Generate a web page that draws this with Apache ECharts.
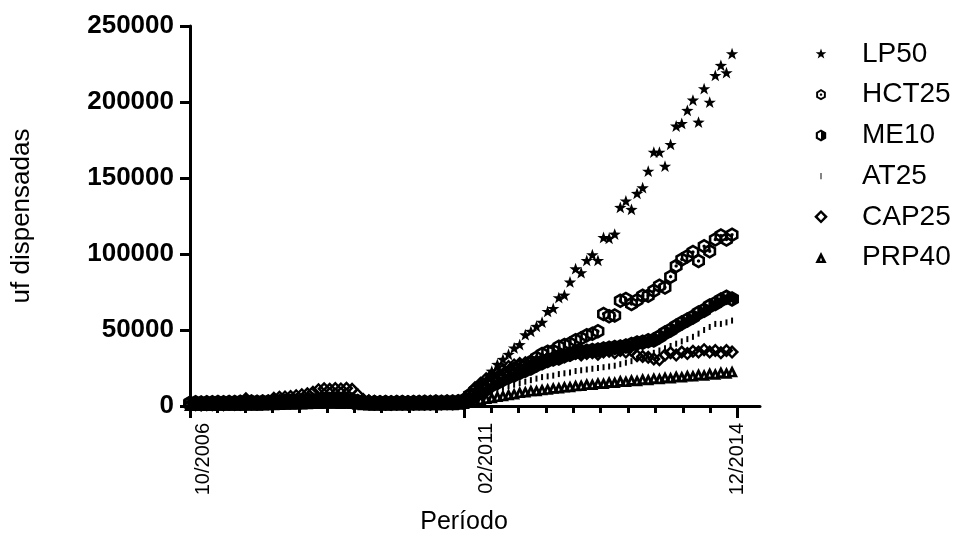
<!DOCTYPE html>
<html>
<head>
<meta charset="utf-8">
<title>uf dispensadas</title>
<script src="https://cdn.jsdelivr.net/npm/echarts@6/dist/echarts.min.js"></script>
<style>
  html, body { margin: 0; padding: 0; background: #fff; }
  #chart { width: 960px; height: 534px; }
</style>
</head>
<body>
<div id="chart"></div>
<script>
// meses 10/2006 ... 11/2014 (um ponto por mes)
const months = [];
for (let k = 0; k < 98; k++) {
  const m = (9 + k) % 12 + 1, y = 2006 + Math.floor((9 + k) / 12);
  months.push((m < 10 ? '0' : '') + m + '/' + y);
}
const tickLabels = ['10/2006', '02/2011', '12/2014'];
const yTicks = [0, 50000, 100000, 150000, 200000, 250000];
const seriesNames = ['LP50', 'HCT25', 'ME10', 'AT25', 'CAP25', 'PRP40'];

const lp50 = [
  1800,1900,2000,1900,2100,2000,2200,2100,2300,2200,
  2400,2300,2500,2600,2700,2800,3000,3100,3200,3300,
  3400,3500,3600,3800,3900,4000,4100,4000,4200,3900,
  3200,2800,2600,2500,2400,2500,2600,2500,2700,2600,
  2800,2700,2900,3000,2800,3000,3100,2900,3200,
  4500,7500,
  10700,13800,17100,22600,27000,30300,33600,37800,40000,46500,
  48700,52000,54700,61800,63800,70900,72600,81200,89900,87300,
  95400,99100,95400,110500,109900,112700,130300,134500,129000,139500,
  143200,154100,166600,166600,157400,171700,183800,185500,194100,200900,
  186400,208400,199500,217100,223700,218900,231400
];
const hct25 = [
  2200,2400,2300,2500,2400,2600,2500,2700,2600,2800,
  2700,2900,2800,3000,2900,3100,3000,3200,3100,3300,
  3200,3400,3300,3500,3400,3600,3500,3400,3600,3300,
  3000,2800,2700,2600,2500,2600,2500,2700,2600,2500,
  2700,2600,2800,2700,2900,2800,3000,2900,3100,
  4000,7000,10000,12500,14500,16500,18400,20400,22400,24300,
  26300,27000,29100,31700,34200,35700,36200,38900,40100,41100,
  43200,44500,46500,47600,49100,60600,59100,59500,69300,70400,
  67100,69500,72600,72600,75800,79100,78000,85100,92100,96400,
  98600,101300,95400,105100,101800,109500,112100,109500,112700
];
const me10 = [
  1500,1600,1500,1700,1600,1800,1700,1900,1800,2000,
  1900,2100,2000,2200,2300,2500,2600,2800,3000,3200,
  3400,3600,3800,4000,4200,4300,4400,4300,4200,4000,
  3000,2500,2200,2000,1900,2000,1800,1900,2000,1900,
  2000,2100,1900,2000,2200,2100,2300,2200,2400,
  2500,4500,7200,9000,11000,13800,15500,17500,19000,20400,
  22000,23500,25000,27000,28500,30000,31000,31600,33000,34000,
  35500,35500,36000,36500,36800,37500,38000,38500,38800,39500,
  40500,41400,42000,43000,43400,45500,48000,50000,52500,54600,
  56600,58500,61200,63000,65800,67500,69700,71500,70400
];
const at25 = [
  900,1000,1100,1000,1200,1100,1300,1200,1400,1300,
  1500,1400,1600,1700,1800,1900,2000,2100,2200,2300,
  2400,2500,2600,2700,2800,2900,3000,2900,2800,2700,
  2200,1900,1700,1600,1500,1600,1500,1400,1500,1600,
  1500,1600,1700,1600,1800,1700,1900,1800,2000,
  2000,3500,5000,6500,8000,9500,11000,12000,13000,14000,
  15000,16000,17000,18000,19000,19500,20000,21000,21500,22000,
  23000,23500,24000,24500,25000,25500,26000,26500,27500,28500,
  29500,31000,32000,33500,35000,36500,38000,39500,41000,42500,
  44000,45500,47600,50000,52000,54000,54000,55000,56200
];
const cap25 = [
  1000,1200,1000,1300,1100,1200,1000,1300,1200,1100,
  4700,3000,2800,3200,3000,5100,5800,6000,6300,6800,
  7400,8000,9000,10700,11300,11000,11500,11200,11600,11000,
  7400,4300,3500,3000,2800,2600,2500,2800,2600,2700,
  2500,2800,2600,3000,2700,2500,2800,2600,3000,
  4000,8000,12000,15000,18000,20000,22000,24000,26000,27000,
  28000,28500,29000,29500,30500,31500,32000,33000,32500,33500,
  34500,33500,34500,35000,34000,35500,36000,35000,36500,35500,
  36500,33000,32500,32000,31000,30500,33500,35000,33500,35500,
  34500,36000,35500,37000,35500,36500,35000,36500,35500
];
const prp40 = [
  600,700,650,750,700,800,750,850,800,900,
  850,950,900,1000,1100,1200,1300,1400,1500,1600,
  1700,1800,1900,2000,2100,2200,2100,2000,2100,1900,
  1500,1200,1000,900,950,900,1000,950,1050,1000,
  1100,1050,1150,1100,1200,1150,1250,1200,1400,
  2000,3000,4000,4500,5300,5800,6500,7000,7800,8300,
  9200,9600,10300,10400,11000,11300,12000,12200,12900,13000,
  13700,13800,14600,14500,15300,15200,16000,15800,16700,16400,
  17300,17000,17900,17600,18500,18200,19100,18800,19700,19400,
  20300,20000,21000,20600,21700,21200,22400,21900,22800
];

// simbolos (caixa 0..100, furos desenhados no sentido contrario)
const STAR = [[[50,0],[61.76,33.82],[97.55,34.55],[69.02,56.18],[79.39,90.45],[50,70],[20.61,90.45],[30.98,56.18],[2.45,34.55],[38.24,33.82]]];
const HEX = [[50,0],[93.3,25],[93.3,75],[50,100],[6.7,75],[6.7,25]];
const HCT = [HEX, [[50,20],[24,35],[24,65],[50,80],[76,65],[76,35]], [[50,38],[60.4,44],[60.4,56],[50,62],[39.6,56],[39.6,44]]];
const HALF = [HEX, [[50,20],[24,35],[24,65],[50,80]]];
const DASH = [[[47,30],[53,30],[53,70],[47,70]]];
const DIAM = [[[50,0],[100,50],[50,100],[0,50]], [[50,24],[26,50],[50,76],[74,50]]];
const TRI = [[[50,0],[100,100],[0,100]], [[50,52],[40,78],[60,78]]];

function toPath(polys, s) {
  const o = 50 - 50 * s;
  let d = 'M0 0 M100 100';
  polys.forEach(p => {
    d += ' M' + p.map(q => (o + q[0] * s).toFixed(1) + ' ' + (o + q[1] * s).toFixed(1)).join(' L') + ' Z';
  });
  return 'path://' + d;
}

const FONT = '"Liberation Sans", Arial, sans-serif';
const values = [lp50, hct25, me10, at25, cap25, prp40];
const symbols = [toPath(STAR, 1), toPath(HCT, 1), toPath(HALF, 1), 'rect', toPath(DIAM, 1), toPath(TRI, 1)];
const sizes = [13, 15, 16, [2, 6], 14, 12];
const legendIcons = [toPath(STAR, 0.7), toPath(HCT, 0.7), toPath(HALF, 0.75), toPath(DASH, 1), toPath(DIAM, 0.85), toPath(TRI, 0.7)];

const labelAt = [2.5, 53, 98];
const minorTicks = [];
for (let k = 0; k <= 20; k++) minorTicks.push(+(k * 4.9).toFixed(1));

const chart = echarts.init(document.getElementById('chart'));
chart.setOption({
  animation: false,
  backgroundColor: '#fff',
  grid: { left: 190, right: 200, top: 26, bottom: 128, containLabel: false, outerBoundsMode: 'none' },
  legend: {
    orient: 'vertical', left: 813, top: 39, padding: 0,
    itemWidth: 72, itemHeight: 16, itemGap: 10.7,
    selectedMode: false,
    textStyle: { fontFamily: FONT, fontSize: 28, color: '#000', lineHeight: 30 },
    data: seriesNames.map((n, k) => ({ name: n, icon: legendIcons[k] }))
  },
  xAxis: [{
    type: 'value', min: 0, max: 102,
    name: 'Período', nameLocation: 'middle', nameGap: 104,
    nameTextStyle: { fontFamily: FONT, fontSize: 25, color: '#000', padding: [0, 22, 0, 0] },
    axisLine: { lineStyle: { color: '#000', width: 3 } },
    axisTick: { customValues: [0, 49, 98], length: 12, lineStyle: { color: '#000', width: 3 } },
    axisLabel: {
      customValues: labelAt, rotate: 90, margin: 17,
      fontFamily: FONT, fontSize: 20, color: '#000',
      formatter: v => tickLabels[labelAt.indexOf(v)] || ''
    },
    splitLine: { show: false }
  }, {
    type: 'value', min: 0, max: 102, position: 'bottom', gridIndex: 0,
    axisLine: { show: false },
    axisTick: { customValues: minorTicks, length: 7, lineStyle: { color: '#000', width: 3 } },
    axisLabel: { show: false },
    splitLine: { show: false }
  }],
  yAxis: {
    type: 'value', min: yTicks[0], max: yTicks[yTicks.length - 1], interval: 50000,
    name: 'uf dispensadas', nameLocation: 'middle', nameGap: 155,
    nameTextStyle: { fontFamily: FONT, fontSize: 26, color: '#000' },
    axisLine: { show: true, lineStyle: { color: '#000', width: 3 } },
    axisTick: { show: true, length: 10, lineStyle: { color: '#000', width: 3 } },
    axisLabel: {
      fontFamily: FONT, fontWeight: 'bold', fontSize: 26, margin: 16, color: '#000',
      formatter: v => String(v)
    },
    splitLine: { show: false }
  },
  series: seriesNames.map((n, k) => ({
    name: n,
    type: 'scatter',
    xAxisIndex: 0,
    silent: true,
    symbol: symbols[k],
    symbolSize: sizes[k],
    itemStyle: { color: '#000', opacity: 1 },
    data: values[k].map((v, i) => [i, v])
  }))
});
</script>
</body>
</html>
